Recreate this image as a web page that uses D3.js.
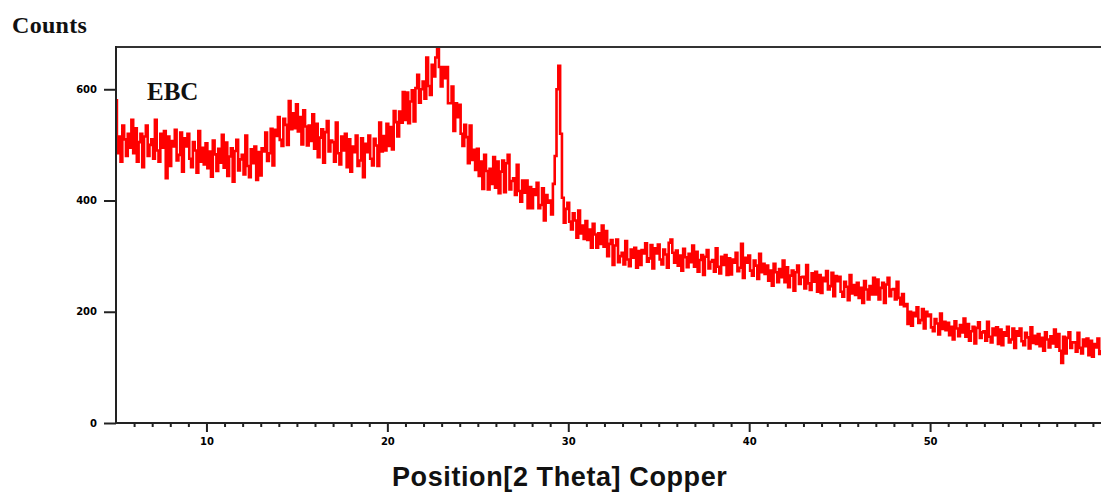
<!DOCTYPE html>
<html>
<head>
<meta charset="utf-8">
<script src="https://cdn.jsdelivr.net/npm/d3@7"></script>
<style>
  html, body { margin: 0; padding: 0; background: #fff; }
  svg { display: block; }
</style>
</head>
<body>
<svg id="chart" width="1101" height="499"></svg>
<script>
// ---- data ----
const twoThetaStart = 5.0;   // first scan position, degrees 2θ
const twoThetaStep = 0.1;    // scan step, degrees 2θ
const counts = [
  580,485,515,470,535,510,480,520,495,545,   // 5
  485,530,470,505,520,460,515,535,480,500,   // 6
  510,475,545,490,470,520,495,525,440,515,   // 7
  462,507,497,527,472,482,522,452,512,497,   // 8
  520,475,460,505,490,450,525,470,495,465,   // 9
  503,458,488,443,508,483,453,493,468,518,   // 10
  459,504,444,479,494,434,489,509,454,474,   // 11
  482,447,517,462,442,492,467,497,437,487,   // 12
  445,494,488,522,471,485,529,463,527,516,   // 13
  550,509,498,547,536,500,579,528,557,530,   // 14
  573,524,550,501,562,533,499,535,507,555,   // 15
  493,538,478,513,528,468,523,543,488,508,   // 16
  505,470,540,485,465,515,490,520,460,510,   // 17
  452,497,487,517,462,472,512,442,502,487,   // 18
  517,475,463,511,499,462,540,488,516,490,   // 19
  538,498,532,492,561,541,515,560,540,595,   // 20
  545,594,539,578,598,542,602,626,576,600,   // 21
  614,583,657,606,590,644,623,657,676,640,   // 22
  605,640,620,640,575,575,605,525,575,550,   // 23
  572,520,498,536,514,467,535,473,491,455,   // 24
  493,444,470,421,482,453,420,457,430,478,   // 25
  423,470,413,452,472,415,467,482,420,435,   // 26
  440,410,464,417,398,436,414,436,386,424,   // 27
  386,420,410,432,386,392,422,364,410,396,   // 28
  400,375,430,480,600,642,520,405,360,385,   // 29
  396,362,348,377,364,333,382,341,355,331,   // 30
  363,329,348,315,358,339,315,341,322,355,   // 31
  317,345,300,322,329,284,319,330,289,300,   // 32
  306,285,327,294,282,312,297,315,279,309,   // 33
  284,311,305,323,290,296,320,278,314,305,   // 34
  321,294,285,312,303,279,324,330,306,288,   // 35
  310,283,301,274,313,298,280,304,289,319,   // 36
  281,308,272,293,302,266,299,311,278,290,   // 37
  293,272,314,281,269,299,284,302,266,296,   // 38
  267,294,288,306,273,279,322,261,297,288,   // 39
  301,274,265,292,283,259,304,271,286,268,   // 40
  283,256,274,247,286,271,253,277,262,292,   // 41
  253,280,244,265,274,238,271,283,250,262,   // 42
  263,242,284,251,239,269,254,272,236,266,   // 43
  234,261,255,273,240,246,270,228,264,255,   // 44
  263,236,227,254,245,221,266,233,248,230,   // 45
  252,225,243,216,255,240,222,246,231,261,   // 46
  231,258,222,243,252,216,249,261,228,240,   // 47
  241,222,254,225,213,232,210,214,178,200,   // 48
  175,198,192,208,180,185,205,170,200,192,   // 49
  195,172,165,187,179,159,197,169,182,167,   // 50
  180,158,173,150,183,170,156,176,163,188,   // 51
  155,178,148,165,173,143,171,181,153,163,   // 52
  165,148,182,155,145,170,158,172,142,168,   // 53
  140,163,157,173,145,150,170,135,165,157,   // 54
  170,147,140,162,154,134,172,144,157,142,   // 55
  160,138,153,130,163,150,136,156,143,168,   // 56
  137,160,130,108,155,125,153,163,135,145,   // 57
  145,128,162,135,125,150,138,152,122,148,   // 58
  119,142,136,152,124,129,149,114,144,136,   // 59
  130                                        // 60
];
const xMajorTicks = [10, 20, 30, 40, 50];
const xMinorTicks = [6,7,8,9,11,12,13,14,15,16,17,18,19,21,22,23,24,25,26,27,28,29,
                     31,32,33,34,35,36,37,38,39,41,42,43,44,45,46,47,48,49,51,52,53,54,55,56,57,58,59];
const yTicks = [0, 200, 400, 600];
const sampleLabel = "EBC";
const yTitle = "Counts";
const xTitle = "Position[2 Theta] Copper";

// ---- layout ----
const svg = d3.select("#chart");
const plotLeft = 116, plotTop = 47, plotBottom = 423, plotRight = 1101;
const x = d3.scaleLinear().domain([5, 60]).range([116, 1111]);
const y = d3.scaleLinear().domain([0, 676]).range([plotBottom, plotTop]);

const points = counts.map((c, i) => [twoThetaStart + i * twoThetaStep, c]);

svg.append("defs").append("clipPath").attr("id", "plotclip")
  .append("rect").attr("x", plotLeft).attr("y", plotTop - 1)
  .attr("width", plotRight - plotLeft).attr("height", plotBottom - plotTop + 1);

// data line
const line = d3.line().x(d => x(d[0])).y(d => y(d[1])).curve(d3.curveStep);
svg.append("path")
  .datum(points)
  .attr("clip-path", "url(#plotclip)")
  .attr("fill", "none")
  .attr("stroke", "#ff0000")
  .attr("stroke-width", 2.6)
  .attr("d", line);

// frame: top line
svg.append("line").attr("x1", plotLeft).attr("x2", plotRight).attr("y1", plotTop).attr("y2", plotTop)
  .attr("stroke", "#333").attr("stroke-width", 2);

// x axis (major ticks)
const xAxis = svg.append("g").attr("transform", `translate(0,${plotBottom})`)
  .call(d3.axisBottom(x).tickValues(xMajorTicks).tickSize(9).tickPadding(6).tickFormat(d3.format("d")));
xAxis.select(".domain").remove();
xAxis.selectAll(".tick line").attr("stroke", "#222").attr("stroke-width", 2);
xAxis.selectAll("text").attr("font-family", "DejaVu Sans, sans-serif").attr("font-weight", "bold")
  .attr("font-size", 10).attr("fill", "#000");

// x minor ticks
svg.append("g").attr("transform", `translate(0,${plotBottom})`)
  .call(d3.axisBottom(x).tickValues(xMinorTicks).tickSize(4).tickFormat(""))
  .call(g => g.select(".domain").remove())
  .selectAll(".tick line").attr("stroke", "#222").attr("stroke-width", 2);

// x axis line
svg.append("line").attr("x1", plotLeft).attr("x2", plotRight).attr("y1", plotBottom).attr("y2", plotBottom)
  .attr("stroke", "#222").attr("stroke-width", 2);

// y axis
const yAxis = svg.append("g").attr("transform", `translate(${plotLeft},0)`)
  .call(d3.axisLeft(y).tickValues(yTicks).tickSize(12).tickPadding(7).tickFormat(d3.format("d")));
yAxis.select(".domain").remove();
yAxis.selectAll(".tick line").attr("stroke", "#222").attr("stroke-width", 2);
yAxis.selectAll("text").attr("font-family", "DejaVu Sans, sans-serif").attr("font-weight", "bold")
  .attr("font-size", 10).attr("fill", "#000");

svg.append("line").attr("x1", plotLeft).attr("x2", plotLeft).attr("y1", plotTop - 1).attr("y2", plotBottom + 1)
  .attr("stroke", "#222").attr("stroke-width", 2);

// titles
svg.append("text").attr("x", 12).attr("y", 33).text(yTitle)
  .attr("font-family", "Liberation Serif, serif").attr("font-weight", "bold")
  .attr("font-size", 24).attr("letter-spacing", 0.3).attr("fill", "#111");

svg.append("text").attr("x", 147).attr("y", 100).text(sampleLabel)
  .attr("font-family", "Liberation Serif, serif").attr("font-weight", "bold")
  .attr("font-size", 25).attr("fill", "#111");

svg.append("text").attr("x", 392).attr("y", 486).text(xTitle)
  .attr("font-family", "Liberation Sans, Arial, sans-serif").attr("font-weight", "bold")
  .attr("font-size", 27).attr("letter-spacing", 0.6).attr("fill", "#111");
</script>
</body>
</html>
